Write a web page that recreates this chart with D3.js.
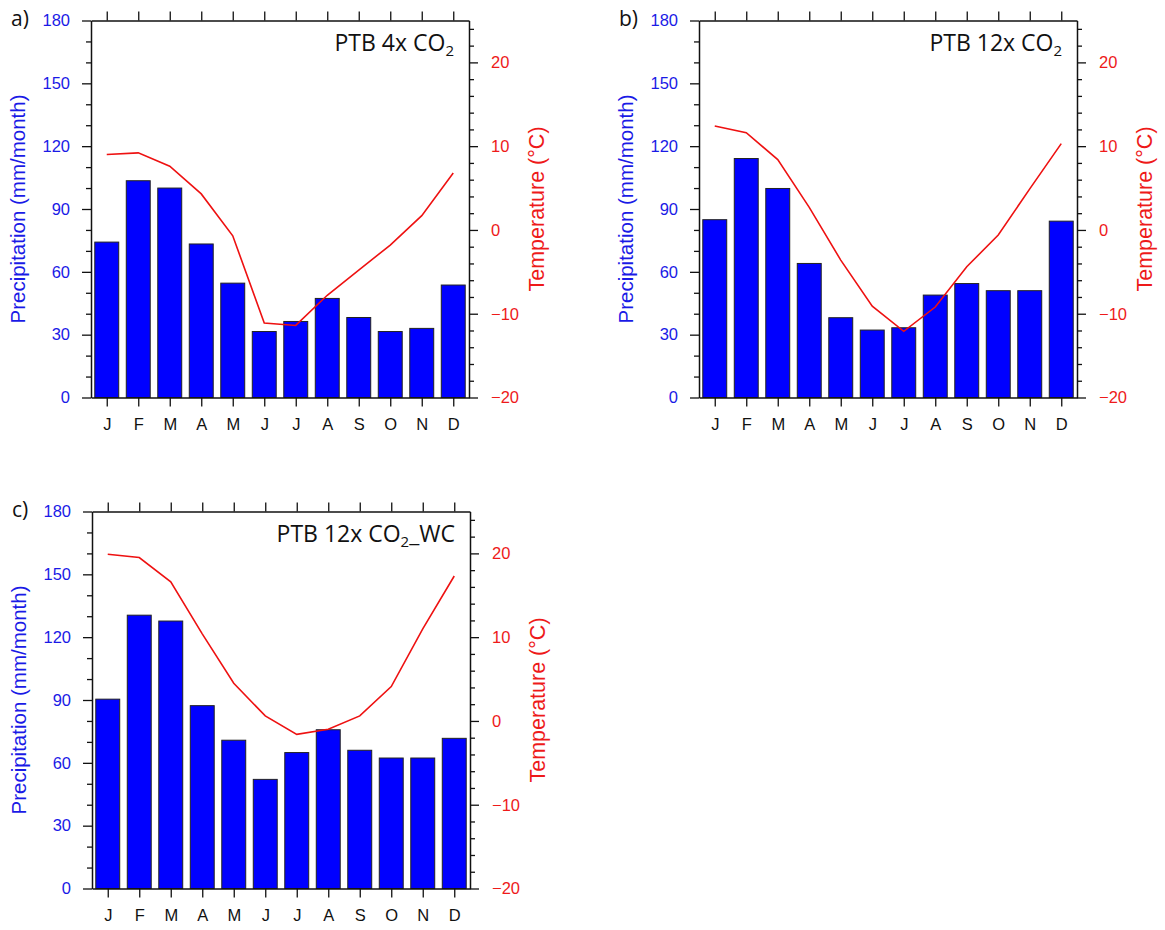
<!DOCTYPE html>
<html>
<head>
<meta charset="utf-8">
<script src="https://cdn.jsdelivr.net/npm/d3@7"></script>
<style>
  body { margin: 0; background: #fff; }
  svg { display: block; }
</style>
</head>
<body>
<div id="chart"></div>
<script>
const months = ['J', 'F', 'M', 'A', 'M', 'J', 'J', 'A', 'S', 'O', 'N', 'D'];

const precipA = [74.2, 103.5, 100, 73.3, 54.6, 31.5, 36.3, 47.3, 38.2, 31.5, 33, 53.7];
const tempA = [9.0, 9.2, 7.6, 4.3, -0.7, -11.1, -11.4, -7.8, -4.8, -1.8, 1.7, 6.8];

const precipB = [84.9, 114.1, 99.8, 64, 38.1, 32.2, 33.3, 48.9, 54.4, 51, 51, 84.2];
const tempB = [12.4, 11.6, 8.4, 2.7, -3.6, -9.1, -12.1, -9.2, -4.4, -0.6, 4.9, 10.3];

const precipC = [90.4, 130.5, 127.7, 87.3, 70.8, 52.1, 64.9, 75.8, 66, 62.3, 62.3, 71.7];
const tempC = [19.9, 19.5, 16.6, 10.4, 4.5, 0.6, -1.6, -1.0, 0.6, 4.1, 11.0, 17.3];

const panelLabels = ['a)', 'b)', 'c)'];
const titles = [['PTB 4x CO', '2', ''], ['PTB 12x CO', '2', ''], ['PTB 12x CO', '2', '_WC']];

const precipTicks = [0, 30, 60, 90, 120, 150, 180];
const precipMinor = d3.range(0, 181, 10).filter((d) => d % 30 !== 0);
const tempTicks = [-20, -10, 0, 10, 20];
const tempMinor = d3.range(-20, 25, 2).filter((d) => d % 10 !== 0);

const W = 1165, H = 930;
const pw = 378, ph = 377;
const panels = [
  { x: 91, y: 20.5, precip: precipA, temp: tempA },
  { x: 699, y: 20.5, precip: precipB, temp: tempB },
  { x: 92, y: 511.5, precip: precipC, temp: tempC }
];

const svg = d3.select('#chart').append('svg').attr('width', W).attr('height', H);

const tickFont = 'Liberation Sans, Arial, sans-serif';
const titleFont = 'Open Sans, Noto Sans, sans-serif';

const styleAxis = (g) => {
  g.selectAll('.domain').attr('stroke', '#111').attr('stroke-width', 1.5);
  g.selectAll('.tick line').attr('stroke', '#111').attr('stroke-width', 1.3);
  g.selectAll('text').attr('font-family', tickFont).attr('font-size', 16.5);
};

panels.forEach((p, i) => {
  const g = svg.append('g').attr('transform', `translate(${p.x},${p.y})`);

  const x = d3.scaleBand().domain(d3.range(12)).range([0, pw]).paddingInner(0.24).paddingOuter(0.12);
  const xPos = d3.scalePoint().domain(d3.range(12)).range([0, pw]).padding(0.5);
  const yP = d3.scaleLinear().domain([0, 180]).range([ph, 0]);
  const yT = d3.scaleLinear().domain([-20, 25]).range([ph, 0]);

  // bars
  g.selectAll('.bar')
    .data(p.precip)
    .enter()
    .append('rect')
    .attr('class', 'bar')
    .attr('x', (d, j) => xPos(j) - x.bandwidth() / 2)
    .attr('width', x.bandwidth())
    .attr('y', (d) => yP(d))
    .attr('height', (d) => ph - yP(d))
    .attr('fill', '#0000ff')
    .attr('stroke', '#222')
    .attr('stroke-width', 1);

  // temperature line
  const line = d3.line().x((d, j) => xPos(j)).y((d) => yT(d));
  g.append('path')
    .datum(p.temp)
    .attr('d', line)
    .attr('fill', 'none')
    .attr('stroke', '#ee1111')
    .attr('stroke-width', 1.6);

  // left axis
  const left = g.append('g').call(d3.axisLeft(yP).tickValues(precipTicks).tickSize(9).tickSizeOuter(0).tickPadding(12));
  styleAxis(left);
  left.selectAll('text').attr('fill', '#1a1ae6');
  const leftMinor = g.append('g').call(d3.axisLeft(yP).tickValues(precipMinor).tickSize(5).tickFormat(''));
  styleAxis(leftMinor);
  leftMinor.select('.domain').remove();

  // right axis
  const right = g.append('g').attr('transform', `translate(${pw},0)`)
    .call(d3.axisRight(yT).tickValues(tempTicks).tickSize(9).tickSizeOuter(0).tickPadding(13));
  styleAxis(right);
  right.selectAll('text').attr('fill', '#ee1a1a');
  const rightMinor = g.append('g').attr('transform', `translate(${pw},0)`)
    .call(d3.axisRight(yT).tickValues(tempMinor).tickSize(5).tickFormat(''));
  styleAxis(rightMinor);
  rightMinor.select('.domain').remove();

  // bottom and top month axes
  const bottom = g.append('g').attr('transform', `translate(0,${ph})`)
    .call(d3.axisBottom(xPos).tickSize(9).tickSizeOuter(0).tickPadding(12).tickFormat((d) => months[d]));
  styleAxis(bottom);
  bottom.selectAll('text').attr('fill', '#111');
  const top = g.append('g').call(d3.axisTop(xPos).tickSize(9).tickSizeOuter(0).tickFormat(''));
  styleAxis(top);

  // axis titles
  g.append('text')
    .attr('transform', `translate(${-73},${ph / 2}) rotate(-90)`)
    .attr('text-anchor', 'middle')
    .attr('dy', '0.35em')
    .attr('font-family', tickFont)
    .attr('font-size', 20.5)
    .attr('fill', '#1a1ae6')
    .text('Precipitation (mm/month)');

  g.append('text')
    .attr('transform', `translate(${pw + 67},${ph / 2}) rotate(-90)`)
    .attr('text-anchor', 'middle')
    .attr('dy', '0.35em')
    .attr('font-family', tickFont)
    .attr('font-size', 21.5)
    .attr('fill', '#ee1a1a')
    .text('Temperature (\u00B0C)');

  // panel title
  const t = g.append('text')
    .attr('x', pw - 15)
    .attr('y', 30)
    .attr('text-anchor', 'end')
    .attr('font-family', titleFont)
    .attr('font-size', 23)
    .attr('fill', '#111');
  t.append('tspan').text(titles[i][0]);
  t.append('tspan').attr('font-size', 15).attr('dy', 5).text(titles[i][1]);
  if (titles[i][2]) t.append('tspan').attr('dy', -5).text(titles[i][2]);

  // panel label
  g.append('text')
    .attr('x', -80)
    .attr('y', 5)
    .attr('font-family', titleFont)
    .attr('font-size', 21)
    .attr('fill', '#111')
    .text(panelLabels[i]);
});
</script>
</body>
</html>
